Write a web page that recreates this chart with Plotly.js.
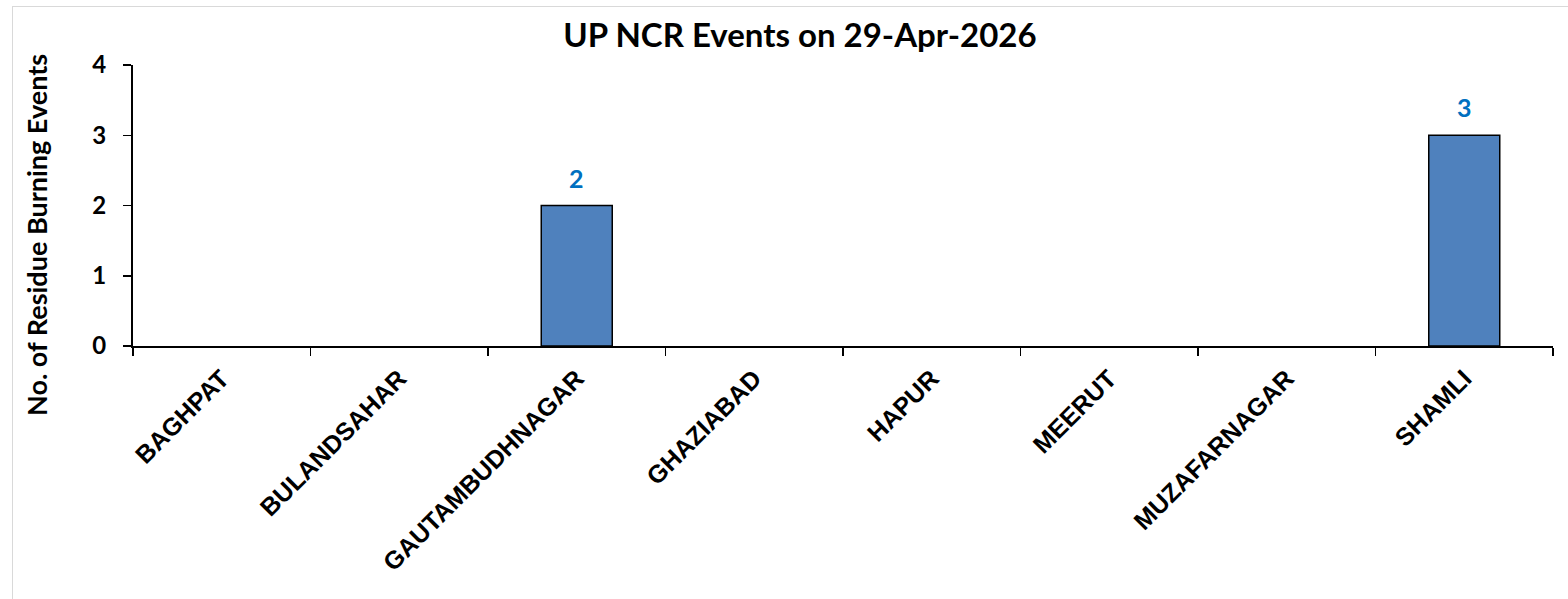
<!DOCTYPE html>
<html>
<head>
<meta charset="utf-8">
<script src="https://cdn.plot.ly/plotly-3.0.1.min.js"></script>
<style>
  html, body { margin: 0; padding: 0; background: #fff; overflow: hidden; }
  #chart { position: absolute; left: 0; top: 0; width: 1568px; height: 599px; }
  #frame { position: absolute; left: 12px; top: 6px; width: 1600px; height: 700px;
           border: 1px solid #d9d9d9; pointer-events: none; }
</style>
</head>
<body>
<div id="chart"></div>
<div id="frame"></div>
<script>
const districts = ["BAGHPAT", "BULANDSAHAR", "GAUTAMBUDHNAGAR", "GHAZIABAD", "HAPUR", "MEERUT", "MUZAFARNAGAR", "SHAMLI"];
const events = [0, 0, 2, 0, 0, 0, 0, 3];
const yTicks = [0, 1, 2, 3, 4];
const chartTitle = "UP NCR Events on 29-Apr-2026";
const yTitle = "No. of Residue Burning Events";

const W = 1568, H = 599;
const L = 133, R = 15, T = 65, B = 253;
const pw = W - L - R, ph = H - T - B;

const trace = {
  type: "bar",
  x: districts,
  y: events,
  width: 0.4,
  marker: { color: "#4F81BD", line: { color: "#000000", width: events.map(v => v > 0 ? 1.5 : 0) } },
  hoverinfo: "x+y"
};

const labelAnnotations = districts.map((d, i) => ({ d, v: events[i] }))
  .filter(o => o.v > 0)
  .map(o => ({
    x: o.d, y: o.v, xref: "x", yref: "y",
    text: "<b>" + o.v + "</b>",
    showarrow: false, xanchor: "center", yanchor: "middle", yshift: 28,
    font: { family: "Lato, 'Open Sans', sans-serif", size: 25, color: "#0070C0" }
  }));

const layout = {
  width: W, height: H,
  margin: { l: L, r: R, t: T, b: B, pad: 0 },
  paper_bgcolor: "#ffffff",
  plot_bgcolor: "#ffffff",
  showlegend: false,
  title: {
    text: "<b>" + chartTitle + "</b>",
    x: 800 / W, xref: "container", xanchor: "center",
    y: 1 - 35 / H, yref: "container", yanchor: "middle",
    font: { family: "Lato, 'Open Sans', sans-serif", size: 33, color: "#000000" }
  },
  xaxis: {
    type: "category",
    tickangle: -45,
    tickson: "boundaries",
    ticks: "outside", ticklen: 8, tickwidth: 1.5, tickcolor: "#000000",
    ticklabelstandoff: 6,
    showline: true, linecolor: "#000000", linewidth: 2,
    showgrid: false, zeroline: false,
    tickfont: { family: "'Liberation Sans', Arial, sans-serif", size: 25, color: "#000000", weight: "bold" },
    fixedrange: true
  },
  yaxis: {
    range: [0, 4],
    tickvals: yTicks,
    ticktext: yTicks.map(v => "<b>" + v + "</b>"),
    ticks: "outside", ticklen: 8, tickwidth: 1.5, tickcolor: "#000000",
    ticklabelstandoff: 12,
    showline: true, linecolor: "#000000", linewidth: 2,
    showgrid: false, zeroline: false,
    tickfont: { family: "Lato, 'Open Sans', sans-serif", size: 24, color: "#000000" },
    fixedrange: true
  },
  annotations: labelAnnotations.concat([{
    text: "<b>" + yTitle + "</b>",
    xref: "paper", yref: "paper",
    x: (36 - L) / pw, y: (H - B - 235) / ph,
    xanchor: "center", yanchor: "middle",
    textangle: -90, showarrow: false,
    font: { family: "Lato, 'Open Sans', sans-serif", size: 27, color: "#000000" }
  }])
};

Plotly.newPlot("chart", [trace], layout, { displayModeBar: false, staticPlot: true });
</script>
</body>
</html>
